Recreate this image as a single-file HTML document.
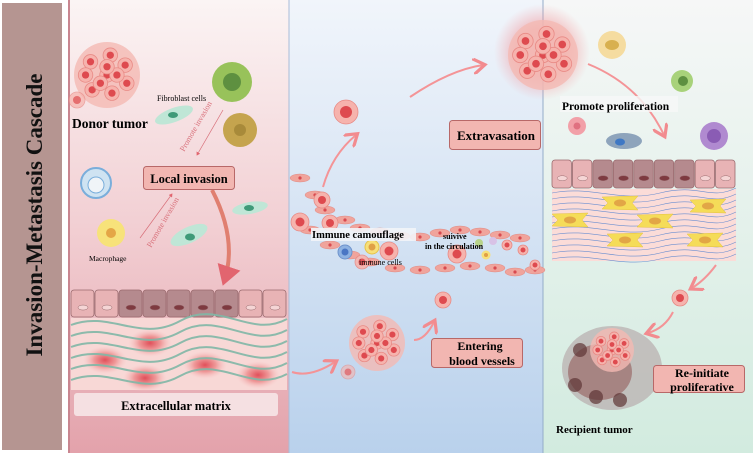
<!DOCTYPE html>
<html><head><meta charset="utf-8"><style>
html,body{margin:0;padding:0;background:#fff;}
svg{display:block;}
text{font-family:"Liberation Serif",serif;}
</style></head><body>
<svg id="s" width="753" height="453" viewBox="0 0 753 453" xmlns="http://www.w3.org/2000/svg">
<defs>
<linearGradient id="g1" x1="0" y1="0" x2="0" y2="1"><stop offset="0" stop-color="#fbf4f4"/><stop offset="0.5" stop-color="#f2cfd3"/><stop offset="1" stop-color="#e3a2ab"/></linearGradient>
<linearGradient id="g2" x1="0" y1="0" x2="0" y2="1"><stop offset="0" stop-color="#f1f5fb"/><stop offset="1" stop-color="#b9d1ec"/></linearGradient>
<linearGradient id="g3" x1="0" y1="0" x2="0" y2="1"><stop offset="0" stop-color="#f6f7f7"/><stop offset="1" stop-color="#d2ebdf"/></linearGradient>
<radialGradient id="glow"><stop offset="0.5" stop-color="#f08c90" stop-opacity="0.6"/><stop offset="1" stop-color="#f5a0a5" stop-opacity="0"/></radialGradient>
<radialGradient id="blob"><stop offset="0" stop-color="#e0505a"/><stop offset="0.5" stop-color="#ef9a9a"/><stop offset="1" stop-color="#f7c8c8" stop-opacity="0"/></radialGradient>
<marker id="ar" markerWidth="8" markerHeight="8" refX="5" refY="4" orient="auto"><path d="M0,0 L6,4 L0,8" fill="none" stroke="#f28b8f" stroke-width="1.6"/></marker>
<marker id="ar2" markerWidth="6" markerHeight="6" refX="4" refY="3" orient="auto"><path d="M0,0 L5,3 L0,6 Z" fill="#e2656f"/></marker>
</defs>
<rect width="753" height="453" fill="#fff"/>
<rect x="2" y="3" width="60" height="447" fill="#b59591"/>
<text transform="translate(42,215) rotate(-90)" text-anchor="middle" font-size="23" font-weight="bold" fill="#111">Invasion-Metastasis Cascade</text>
<rect x="69" y="0" width="220" height="453" fill="url(#g1)"/>
<rect x="68" y="0" width="2" height="453" fill="#c98690"/>
<rect x="289" y="0" width="254" height="453" fill="url(#g2)"/>
<rect x="543" y="0" width="210" height="453" fill="url(#g3)"/>
<line x1="289" y1="0" x2="289" y2="453" stroke="#a9bcd8" stroke-width="1"/>
<line x1="543" y1="0" x2="543" y2="453" stroke="#94acc9" stroke-width="1"/>
<circle cx="542" cy="52" r="48" fill="url(#glow)"/>
<g id="dyn"></g>
<!-- arrows -->
<path d="M212,190 Q238,240 224,282" fill="none" stroke="#e07f70" stroke-width="4" marker-end="url(#ar2)"/>
<path d="M323,187 Q332,155 356,135" fill="none" stroke="#f49497" stroke-width="2" marker-end="url(#ar)"/>
<path d="M410,97 Q450,70 483,65" fill="none" stroke="#f49497" stroke-width="2" marker-end="url(#ar)"/>
<path d="M588,64 Q640,85 664,135" fill="none" stroke="#f49497" stroke-width="2" marker-end="url(#ar)"/>
<path d="M716,265 Q705,280 692,288" fill="none" stroke="#f49497" stroke-width="2" marker-end="url(#ar)"/>
<path d="M673,312 Q665,328 648,333" fill="none" stroke="#f49497" stroke-width="2" marker-end="url(#ar)"/>
<path d="M292,372 Q310,378 335,362" fill="none" stroke="#f49497" stroke-width="2" marker-end="url(#ar)"/>
<path d="M414,340 Q425,340 434,322" fill="none" stroke="#f49497" stroke-width="2" marker-end="url(#ar)"/>
<line x1="223" y1="110" x2="197" y2="155" stroke="#d8707a" stroke-width="0.7" marker-end="url(#ar2)"/>
<line x1="140" y1="238" x2="172" y2="194" stroke="#d8707a" stroke-width="0.7" marker-end="url(#ar2)"/>
<text transform="translate(184,152) rotate(-60)" font-size="8" fill="#d8707a">Promote invasion</text>
<text transform="translate(151,248) rotate(-60)" font-size="8" fill="#d8707a">Promote invasion</text>
<!-- labels -->
<text x="72" y="128" font-size="13.5" font-weight="bold">Donor tumor</text>
<text x="157" y="101" font-size="8">Fibroblast cells</text>
<text x="89" y="261" font-size="7.5">Macrophage</text>
<rect x="143.5" y="166.5" width="91" height="23" rx="3" fill="#f2b6b1" stroke="#b86868" stroke-width="1"/>
<text x="189" y="183" text-anchor="middle" font-size="12.5" font-weight="bold">Local invasion</text>
<rect x="74" y="393" width="204" height="23" rx="3" fill="#f6e3e5" opacity="0.95"/>
<text x="176" y="410" text-anchor="middle" font-size="12.5" font-weight="bold">Extracellular matrix</text>
<rect x="449.5" y="120.5" width="91" height="29" rx="3" fill="#f2b6b1" stroke="#b86868"/>
<text x="496" y="140" text-anchor="middle" font-size="13" font-weight="bold">Extravasation</text>
<rect x="431.5" y="338.5" width="91" height="29" rx="3" fill="#f2b6b1" stroke="#b86868"/>
<text x="480" y="350" text-anchor="middle" font-size="12" font-weight="bold">Entering</text>
<text x="482" y="365" text-anchor="middle" font-size="12" font-weight="bold">blood vessels</text>
<rect x="653.5" y="365.5" width="91" height="27" rx="3" fill="#f2b6b1" stroke="#b86868"/>
<text x="702" y="377" text-anchor="middle" font-size="12" font-weight="bold">Re-initiate</text>
<text x="702" y="391" text-anchor="middle" font-size="12" font-weight="bold">proliferative</text>
<rect x="560" y="96" width="118" height="16" fill="#f6f8f8" opacity="0.8"/>
<text x="562" y="110" font-size="11.5" font-weight="bold">Promote proliferation</text>
<text x="556" y="433" font-size="11" font-weight="bold">Recipient tumor</text>
<text x="312" y="238" font-size="10.5" font-weight="bold">Immune camouflage</text>
<text x="359" y="265" font-size="8">immune cells</text>
<text x="443" y="239" font-size="8" font-weight="bold">suivive</text>
<text x="425" y="249" font-size="8" font-weight="bold">in the circulation</text>
</svg>
<script>
(function(){
var g=document.getElementById('dyn'),h='';
function E(s){h+=s;}
function cell(x,y,r,o){o=o||1;E('<circle cx="'+x+'" cy="'+y+'" r="'+r+'" fill="#f6b3ad" stroke="#e88a85" stroke-width="0.8" opacity="'+o+'"/><circle cx="'+x+'" cy="'+y+'" r="'+(r*0.5)+'" fill="#de4a4f" opacity="'+o+'"/>');}
function cluster(cx,cy,R){E('<circle cx="'+cx+'" cy="'+cy+'" r="'+R+'" fill="#f4b9b3" opacity="0.8"/>');
 var pts=[[0,0],[-.5,-.4],[.1,-.6],[.55,-.3],[.6,.25],[.15,.55],[-.45,.45],[-.65,.0],[-.2,.25],[.3,.0],[0,-.25]];
 pts.forEach(function(p){cell(cx+p[0]*R,cy+p[1]*R,R*0.22);});}
cluster(107,75,33); cell(77,100,8,0.7);
cluster(543,55,35);
cluster(377,343,28); cell(348,372,7,0.6);
function epi(x0,y0,w,n,hgt){var cw=w/n;for(var i=0;i<n;i++){var dark=i>=2&&i<n-2;E('<rect x="'+(x0+i*cw)+'" y="'+y0+'" width="'+(cw-1)+'" height="'+hgt+'" rx="3" fill="'+(dark?'#b58a8e':'#e8b3b5')+'" stroke="#9a6a6e" stroke-width="0.8"/><ellipse cx="'+(x0+i*cw+cw/2)+'" cy="'+(y0+hgt*0.65)+'" rx="5" ry="2.5" fill="'+(dark?'#7e3a40':'#f5d5d5')+'" stroke="#9a6a6e" stroke-width="0.5"/>');}}
epi(71,290,216,9,27);
epi(552,160,184,9,28);
E('<rect x="71" y="318" width="216" height="72" fill="#f8d8d6"/>');
[[150,343],[105,360],[145,378],[205,365],[258,375]].forEach(function(p){E('<ellipse cx="'+p[0]+'" cy="'+p[1]+'" rx="22" ry="14" fill="url(#blob)"/>');});
for(var k=0;k<6;k++){var y=325+k*11;E('<path d="M71,'+y+' C110,'+(y-15)+' 140,'+(y+18)+' 180,'+(y-4)+' S250,'+(y+14)+' 287,'+(y-6)+'" fill="none" stroke="#7fb7a6" stroke-width="2" opacity="0.9"/>');}
E('<rect x="552" y="189" width="184" height="72" fill="#fbdcd8"/>');
for(k=0;k<12;k++){var y2=193+k*6;E('<path d="M552,'+y2+' C590,'+(y2-8)+' 620,'+(y2+10)+' 660,'+y2+' S710,'+(y2+8)+' 736,'+(y2-5)+'" fill="none" stroke="#6a8ed0" stroke-width="0.6"/>');}
[[570,220],[620,203],[655,221],[708,206],[625,240],[705,240]].forEach(function(p){E('<path d="M'+(p[0]-18)+','+(p[1]-6)+' L'+(p[0]+18)+','+(p[1]-7)+' L'+(p[0]+12)+','+p[1]+' L'+(p[0]+18)+','+(p[1]+7)+' L'+(p[0]-18)+','+(p[1]+6)+' L'+(p[0]-12)+','+p[1]+' Z" fill="#f5dc58" stroke="#e6c240" stroke-width="0.5"/><ellipse cx="'+p[0]+'" cy="'+p[1]+'" rx="6" ry="3.5" fill="#e2a646"/>');});
var vcells=[[300,178],[315,195],[325,210],[345,220],[360,228],[380,232],[400,236],[420,237],[440,233],[460,230],[480,232],[500,235],[520,238],[310,230],[330,245],[350,255],[370,262],[395,268],[420,270],[445,268],[470,266],[495,268],[515,272],[535,270]];
vcells.forEach(function(p){E('<ellipse cx="'+p[0]+'" cy="'+p[1]+'" rx="10" ry="4" fill="#f0a49c" stroke="#e08b85" stroke-width="0.5"/><circle cx="'+p[0]+'" cy="'+p[1]+'" r="1.6" fill="#d84a4f"/>');});
cell(300,222,9); cell(322,200,8); cell(330,223,8); cell(389,251,9); cell(457,254,9); cell(362,262,7,0.9); cell(523,250,5); cell(507,245,5); cell(535,265,5);
E('<circle cx="345" cy="252" r="7" fill="#8eb2e2" stroke="#6e93cc"/><circle cx="345" cy="252" r="3.5" fill="#4a76c4"/>');
E('<circle cx="372" cy="247" r="7" fill="#f7e07a" stroke="#e6c24a"/><circle cx="372" cy="247" r="3.5" fill="#e0a046"/>');
E('<circle cx="486" cy="255" r="4.5" fill="#f7e07a"/><circle cx="486" cy="255" r="2" fill="#e0a046"/><circle cx="479" cy="243" r="4" fill="#b7d38a"/><circle cx="493" cy="241" r="4" fill="#d8c2e6"/>');
E('<rect x="311" y="228" width="105" height="13" fill="#f2f4f8" opacity="0.9"/>');
E('<circle cx="232" cy="82" r="20" fill="#98c25a"/><circle cx="232" cy="82" r="9" fill="#5e9040"/>');
E('<circle cx="240" cy="130" r="17" fill="#c5a44e"/><circle cx="240" cy="130" r="6" fill="#a88a3a"/>');
E('<ellipse cx="174" cy="115" rx="20" ry="7" fill="#bfe6d6" transform="rotate(-20 174 115)"/><ellipse cx="173" cy="115" rx="5" ry="3" fill="#3f9a78"/>');
E('<circle cx="96" cy="183" r="15" fill="#cfe3f2" stroke="#7aaedb" stroke-width="2"/><circle cx="96" cy="185" r="8" fill="#f0f4f8" stroke="#7aaedb"/>');
E('<circle cx="111" cy="233" r="14" fill="#f7e27a"/><circle cx="111" cy="233" r="5" fill="#e4a646"/>');
E('<ellipse cx="189" cy="235" rx="20" ry="8" fill="#bfe6d6" transform="rotate(-25 189 235)"/><ellipse cx="190" cy="237" rx="5" ry="3.5" fill="#3f9a78"/>');
E('<ellipse cx="250" cy="208" rx="18" ry="6" fill="#bfe6d6" transform="rotate(-10 250 208)"/><ellipse cx="249" cy="208" rx="5" ry="3" fill="#3f9a78"/>');
E('<circle cx="612" cy="45" r="14" fill="#f5dca0"/><ellipse cx="612" cy="45" rx="7" ry="5" fill="#d8b050"/>');
E('<circle cx="682" cy="81" r="11" fill="#a8d27a"/><circle cx="683" cy="81" r="5" fill="#5e9040"/>');
E('<circle cx="577" cy="126" r="9" fill="#f2a0a8"/><circle cx="577" cy="126" r="3.5" fill="#e07080"/>');
E('<ellipse cx="624" cy="141" rx="18" ry="8" fill="#8ea4bc"/><ellipse cx="620" cy="142" rx="5" ry="3.5" fill="#3f78c4"/>');
E('<circle cx="714" cy="136" r="14" fill="#b08ad0"/><circle cx="714" cy="136" r="7" fill="#8a5cb4"/>');
cell(680,298,8); cell(443,300,8); cell(346,112,12);
E('<ellipse cx="612" cy="368" rx="50" ry="42" fill="#b9b0b0" opacity="0.75"/><ellipse cx="600" cy="372" rx="32" ry="28" fill="#9a6b6a" opacity="0.7"/>');
[[580,350],[575,385],[596,397],[620,400]].forEach(function(p){E('<circle cx="'+p[0]+'" cy="'+p[1]+'" r="7" fill="#5e3434" opacity="0.7"/>');});
cluster(612,350,22);
g.innerHTML=h;
})();
</script>
</body></html>
